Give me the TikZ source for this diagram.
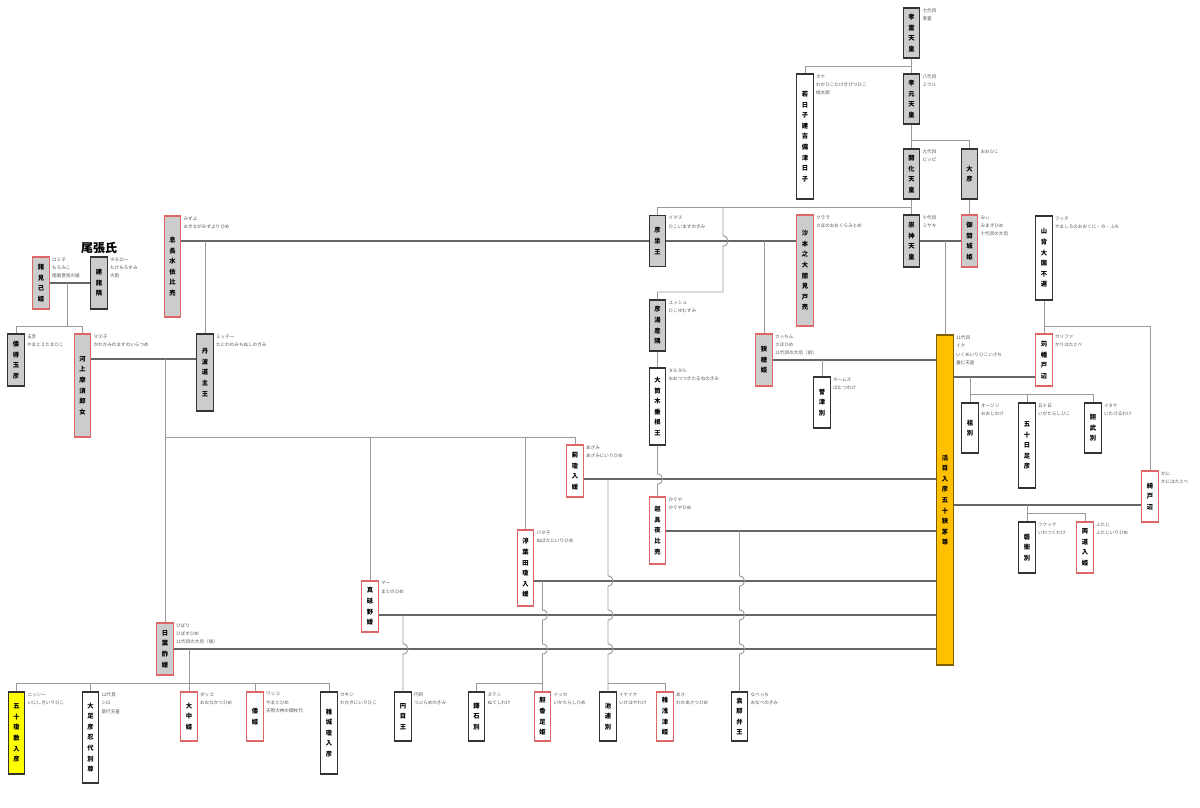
\documentclass[tikz,border=0pt]{standalone}
\usepackage{fontspec}
\setmainfont{Noto Sans CJK JP}
\usetikzlibrary{positioning}
\definecolor{FamGray}{HTML}{CCCCCC}
\definecolor{FamEdge}{HTML}{333333}
\definecolor{FamRed}{HTML}{E06666}
\definecolor{FamGold}{HTML}{FFC000}
\definecolor{FamGoldEdge}{HTML}{7F6000}
\definecolor{FamYellow}{HTML}{FFFF00}
\definecolor{FamLine}{HTML}{9A9A9A}
\definecolor{FamTie}{HTML}{666666}
\definecolor{FamNote}{HTML}{555555}
\tikzset{
  person/.style={draw=FamEdge,line width=1.2pt,minimum width=16.5pt,inner sep=0pt,align=center,
    font=\fontsize{6.3}{10.6}\selectfont\bfseries},
  grayman/.style={person,fill=FamGray},
  graywoman/.style={person,fill=FamGray,draw=FamRed},
  whiteman/.style={person,fill=white},
  whitewoman/.style={person,fill=white,draw=FamRed},
  goldman/.style={person,fill=FamGold,draw=FamGoldEdge},
  yellowman/.style={person,fill=FamYellow},
  note/.style={anchor=north west,inner sep=0pt,align=left,text=FamNote,
    font=\fontsize{4.6}{8.3}\selectfont},
  desc/.style={draw=FamLine,line width=0.9pt},
  tie/.style={draw=FamTie,line width=1.3pt},
  hop/.style 2 args={insert path={-- (#1,#2-5) .. controls (#1+6.7,#2-5) and (#1+6.7,#2+5) .. (#1,#2+5)}}
}
\begin{document}
\begin{tikzpicture}[x=1pt,y=-1pt]
\useasboundingbox[fill=white] (0,0) rectangle (1200,808);
% emperors
\node[grayman,minimum height=50pt] (korei) at (911.5,33) {孝\\霊\\天\\皇};
\node[note] (korei-n) at ([xshift=2pt,yshift=-1pt]korei.north east) {七代目\\孝霊};
\node[whiteman,minimum height=125pt] (wakahiko) at (805,136.5) {若\\日\\子\\建\\吉\\備\\津\\日\\子};
\node[note] (wakahiko-n) at ([xshift=2pt,yshift=-1pt]wakahiko.north east) {タケ\\わかひこたけきびつひこ\\桃太郎};
\node[grayman,minimum height=50pt] (kogen) at (911.5,99) {孝\\元\\天\\皇};
\node[note] (kogen-n) at ([xshift=2pt,yshift=-1pt]kogen.north east) {八代目\\ミクル};
\node[grayman,minimum height=50pt] (kaika) at (911.5,174) {開\\化\\天\\皇};
\node[note] (kaika-n) at ([xshift=2pt,yshift=-1pt]kaika.north east) {九代目\\ビッピ};
\node[grayman,minimum height=50pt] (ohiko) at (969.5,174) {大\\彦};
\node[note] (ohiko-n) at ([xshift=2pt,yshift=-1pt]ohiko.north east) {おおひこ};
\node[grayman,minimum height=52pt] (sujin) at (911.5,241) {崇\\神\\天\\皇};
\node[note] (sujin-n) at ([xshift=2pt,yshift=-1pt]sujin.north east) {十代目\\ミヤキ};
\node[graywoman,minimum height=52pt] (mimaki) at (969.5,241) {御\\間\\城\\姫};
\node[note] (mimaki-n) at ([xshift=2pt,yshift=-1pt]mimaki.north east) {みぃ\\みまきひめ\\十代目の大后};
\node[graywoman,minimum height=111pt] (sahono) at (805,270.5) {沙\\本\\之\\大\\闇\\見\\戸\\売};
\node[note] (sahono-n) at ([xshift=2pt,yshift=-1pt]sahono.north east) {クララ\\さほのおおくらみとめ};
\node[grayman,minimum height=51pt] (hikoimasu) at (657.5,241) {彦\\坐\\王};
\node[note] (hikoimasu-n) at ([xshift=2pt,yshift=-1pt]hikoimasu.north east) {イマス\\ひこいますのきみ};
\node[graywoman,minimum height=101pt] (okinaga) at (172.5,266.5) {息\\長\\水\\依\\比\\売};
\node[note] (okinaga-n) at ([xshift=2pt,yshift=-1pt]okinaga.north east) {みずよ\\おきながみずよりひめ};
\node[grayman,minimum height=77pt] (tanba) at (205,372.5) {丹\\波\\道\\主\\王};
\node[note] (tanba-n) at ([xshift=2pt,yshift=-1pt]tanba.north east) {ミッチー\\たにわのみちぬしのきみ};
\node[grayman,minimum height=51pt] (hikoyumu) at (657.5,325.5) {彦\\湯\\産\\隅};
\node[note] (hikoyumu-n) at ([xshift=2pt,yshift=-1pt]hikoyumu.north east) {ユッシュ\\ひこゆむすみ};
\node[whiteman,minimum height=77pt] (otsutsuki) at (657.5,406.5) {大\\筒\\木\\垂\\根\\王};
\node[note] (otsutsuki-n) at ([xshift=2pt,yshift=-1pt]otsutsuki.north east) {タルタル\\おおつつきたるねのきみ};
\node[graywoman,minimum height=52pt] (sahohime) at (764,360) {狭\\穂\\姫};
\node[note] (sahohime-n) at ([xshift=2pt,yshift=-1pt]sahohime.north east) {さっちん\\さほひめ\\11代目の大后（前）};
\node[whiteman,minimum height=51pt] (homutsu) at (822,402.5) {誉\\津\\別};
\node[note] (homutsu-n) at ([xshift=2pt,yshift=-1pt]homutsu.north east) {ホームズ\\ほむつわけ};
\node[goldman,minimum height=330pt] (ikume) at (945,500) {活\\目\\入\\彦\\五\\十\\狭\\茅\\尊};
\node[note] (ikume-n) at ([xshift=2pt,yshift=-1pt]ikume.north east) {11代目\\イク\\いくめいりひこいさち\\垂仁天皇};
% right side
\node[whiteman,minimum height=84pt] (yamashiro) at (1044,258) {山\\背\\大\\国\\不\\遅};
\node[note] (yamashiro-n) at ([xshift=2pt,yshift=-1pt]yamashiro.north east) {フッチ\\やましろのおおくに・の・ふち};
\node[whitewoman,minimum height=52pt] (karihata) at (1044,360) {苅\\幡\\戸\\辺};
\node[note] (karihata-n) at ([xshift=2pt,yshift=-1pt]karihata.north east) {カリファ\\かりはたとべ};
\node[whitewoman,minimum height=51pt] (kanihata) at (1150,496.5) {綺\\戸\\辺};
\node[note] (kanihata-n) at ([xshift=2pt,yshift=-1pt]kanihata.north east) {かに\\かにはたとべ};
\node[whiteman,minimum height=50pt] (ohoji) at (970,428) {祖\\別};
\node[note] (ohoji-n) at ([xshift=2pt,yshift=-1pt]ohoji.north east) {オージン\\おおじわけ};
\node[whiteman,minimum height=85pt] (ikatahiko) at (1027,445.5) {五\\十\\日\\足\\彦};
\node[note] (ikatahiko-n) at ([xshift=2pt,yshift=-1pt]ikatahiko.north east) {五十日\\いかたらしひこ};
\node[whiteman,minimum height=50pt] (itakeru) at (1093,428) {胆\\武\\別};
\node[note] (itakeru-n) at ([xshift=2pt,yshift=-1pt]itakeru.north east) {イタケ\\いたけるわけ};
\node[whiteman,minimum height=51pt] (iwatsuku) at (1027,547.5) {磐\\衝\\別};
\node[note] (iwatsuku-n) at ([xshift=2pt,yshift=-1pt]iwatsuku.north east) {ツクック\\いわつくわけ};
\node[whitewoman,minimum height=51pt] (futaji) at (1085,547.5) {両\\道\\入\\姫};
\node[note] (futaji-n) at ([xshift=2pt,yshift=-1pt]futaji.north east) {ふたじ\\ふたじいりひめ};
% wives from Tanba
\node[whitewoman,minimum height=52pt] (azami) at (575,471) {薊\\瓊\\入\\媛};
\node[note] (azami-n) at ([xshift=2pt,yshift=-1pt]azami.north east) {あざみ\\あざみにいりひめ};
\node[whitewoman,minimum height=76pt] (nubata) at (525.5,568) {渟\\葉\\田\\瓊\\入\\媛};
\node[note] (nubata-n) at ([xshift=2pt,yshift=-1pt]nubata.north east) {バタ子\\ぬばたにいりひめ};
\node[whitewoman,minimum height=67pt] (kaguya) at (657.5,530.5) {迦\\具\\夜\\比\\売};
\node[note] (kaguya-n) at ([xshift=2pt,yshift=-1pt]kaguya.north east) {かぐや\\かぐやひめ};
\node[whitewoman,minimum height=51pt] (matono) at (370,606.5) {真\\砥\\野\\媛};
\node[note] (matono-n) at ([xshift=2pt,yshift=-1pt]matono.north east) {マー\\まとのひめ};
\node[graywoman,minimum height=52pt] (hibasu) at (165,649) {日\\葉\\酢\\媛};
\node[note] (hibasu-n) at ([xshift=2pt,yshift=-1pt]hibasu.north east) {ひばり\\ひばすひめ\\11代目の大后（後）};
% bottom row
\node[yellowman,minimum height=82pt] (inishiki) at (16.5,733) {五\\十\\瓊\\敷\\入\\彦};
\node[note] (inishiki-n) at ([xshift=2pt,yshift=-1pt]inishiki.north east) {ニッシー\\いにしきいりひこ};
\node[whiteman,minimum height=91pt] (otarashi) at (90.5,737.5) {大\\足\\彦\\忍\\代\\別\\尊};
\node[note] (otarashi-n) at ([xshift=2pt,yshift=-1pt]otarashi.north east) {12代目\\シロ\\景行天皇};
\node[whitewoman,minimum height=49pt] (onaka) at (189,716.5) {大\\中\\姫};
\node[note] (onaka-n) at ([xshift=2pt,yshift=-1pt]onaka.north east) {ダッコ\\おおなかつひめ};
\node[whitewoman,minimum height=49pt] (yamato) at (255,716.5) {倭\\姫};
\node[note] (yamato-n) at ([xshift=2pt,yshift=-1pt]yamato.north east) {ワッコ\\やまとひめ\\天照大神の御杖代};
\node[whiteman,minimum height=82pt] (wakaki) at (329,733) {稚\\城\\瓊\\入\\彦};
\node[note] (wakaki-n) at ([xshift=2pt,yshift=-1pt]wakaki.north east) {カキン\\わかきにいりひこ};
\node[whiteman,minimum height=49pt] (tsubura) at (403,716.5) {円\\目\\王};
\node[note] (tsubura-n) at ([xshift=2pt,yshift=-1pt]tsubura.north east) {円目\\つぶらめのきみ};
\node[whiteman,minimum height=49pt] (nuteshi) at (476.5,716.5) {鐸\\石\\別};
\node[note] (nuteshi-n) at ([xshift=2pt,yshift=-1pt]nuteshi.north east) {ヌテシ\\ぬてしわけ};
\node[whitewoman,minimum height=49pt] (ikatahime) at (542.5,716.5) {胆\\香\\足\\姫};
\node[note] (ikatahime-n) at ([xshift=2pt,yshift=-1pt]ikatahime.north east) {イッカ\\いかたらしひめ};
\node[whiteman,minimum height=49pt] (ikehaya) at (608,716.5) {池\\速\\別};
\node[note] (ikehaya-n) at ([xshift=2pt,yshift=-1pt]ikehaya.north east) {イケイケ\\いけはやわけ};
\node[whitewoman,minimum height=49pt] (wakaasa) at (665,716.5) {稚\\浅\\津\\姫};
\node[note] (wakaasa-n) at ([xshift=2pt,yshift=-1pt]wakaasa.north east) {あさ\\わかあさつひめ};
\node[whiteman,minimum height=49pt] (onabe) at (739.5,716.5) {袁\\那\\弁\\王};
\node[note] (onabe-n) at ([xshift=2pt,yshift=-1pt]onabe.north east) {なべっち\\おなべのきみ};
% Owari clan
\node[font=\fontsize{12}{14}\selectfont\bfseries] (owari) at (99,248) {尾張氏};
\node[graywoman,minimum height=52pt] (moromi) at (41,283) {諸\\見\\己\\姫};
\node[note] (moromi-n) at ([xshift=2pt,yshift=-1pt]moromi.north east) {ロミ子\\もろみこ\\尾張意見の娘};
\node[grayman,minimum height=52pt] (takemoro) at (99,283) {建\\諸\\隅};
\node[note] (takemoro-n) at ([xshift=2pt,yshift=-1pt]takemoro.north east) {タモロー\\たけもろすみ\\大臣};
\node[grayman,minimum height=52pt] (yamatoe) at (16,360) {倭\\得\\玉\\彦};
\node[note] (yamatoe-n) at ([xshift=2pt,yshift=-1pt]yamatoe.north east) {玉彦\\やまとえたまひこ};
\node[graywoman,minimum height=103pt] (kawakami) at (82.5,385.5) {河\\上\\摩\\須\\郎\\女};
\node[note] (kawakami-n) at ([xshift=2pt,yshift=-1pt]kawakami.north east) {マス子\\かわかみのますのいらつめ};
% junctions
\coordinate (kaika-j) at (723,207);
\coordinate (owari-j) at (67,283);
\coordinate (tanba-j) at (165,359);
\coordinate (hibasu-j) at (189,649);
\coordinate (matono-j) at (403,615);
\coordinate (nubata-j) at (542.5,581);
\coordinate (azami-j) at (608,479);
\coordinate (kaguya-j) at (739.5,531);
% marriages
\draw[tie] (sujin.east) -- (mimaki.west);
\draw[tie] (okinaga.east |- hikoimasu.west) -- (hikoimasu.west);
\draw[tie] (hikoimasu.east) -- (sahono.west |- hikoimasu.east);
\draw[tie] (moromi.east) -- (takemoro.west);
\draw[tie] (kawakami.east |- tanba-j) -- (tanba.west |- tanba-j);
\draw[tie] (sahohime.east) -- (ikume.west |- sahohime.east);
\draw[tie] (azami.east |- azami-j) -- (ikume.west |- azami-j);
\draw[tie] (kaguya.east |- kaguya-j) -- (ikume.west |- kaguya-j);
\draw[tie] (nubata.east |- nubata-j) -- (ikume.west |- nubata-j);
\draw[tie] (matono.east |- matono-j) -- (ikume.west |- matono-j);
\draw[tie] (hibasu.east |- hibasu-j) -- (ikume.west |- hibasu-j);
\draw[tie] (ikume.east |- 0,377) -- (karihata.west |- 0,377);
\draw[tie] (ikume.east |- 0,505) -- (kanihata.west |- 0,505);
% descent
\draw[desc] (korei.south) -- (kogen.north);
\draw[desc] (korei.south |- 0,66) -| (wakahiko.north);
\draw[desc] (kogen.south) -- (kaika.north);
\draw[desc] (kogen.south |- 0,140) -| (ohiko.north);
\draw[desc] (kaika.south) -- (sujin.north);
\draw[desc] (kaika.south |- kaika-j) -| (hikoimasu.north);
\draw[desc] (kaika-j) [hop={723}{241}] |- (hikoyumu.north |- 0,292) -- (hikoyumu.north);
\draw[desc] (ohiko.south) -- (mimaki.north);
\draw[desc] (ikume.north |- sujin.east) -- (ikume.north);
\draw[desc] (tanba.north |- hikoimasu.west) -- (tanba.north);
\draw[desc] (sahohime.north |- hikoimasu.east) -- (sahohime.north);
\draw[desc] (hikoyumu.south) -- (otsutsuki.north);
\draw[desc] (otsutsuki.south) [hop={657.5}{479}] -- (kaguya.north);
\draw[desc] (owari-j) |- (yamatoe.north |- 0,326) -- (yamatoe.north);
\draw[desc] (owari-j |- 0,326) -| (kawakami.north);
\draw[desc] (tanba-j) |- (azami.north |- 0,437) -- (azami.north);
\draw[desc] (hibasu.north |- 0,437) -- (hibasu.north);
\draw[desc] (matono.north |- 0,437) -- (matono.north);
\draw[desc] (nubata.north |- 0,437) -- (nubata.north);
\draw[desc] (homutsu.north |- sahohime.east) -- (homutsu.north);
\draw[desc] (hibasu-j) -- (onaka.north);
\draw[desc] (inishiki.north) |- (wakaki.north |- 0,683) -- (wakaki.north);
\draw[desc] (otarashi.north) -- (otarashi.north |- 0,683);
\draw[desc] (yamato.north) -- (yamato.north |- 0,683);
\draw[desc] (matono-j) [hop={403}{649}] -- (tsubura.north);
\draw[desc] (nubata-j) [hop={542.5}{615}] [hop={542.5}{649}] -- (ikatahime.north);
\draw[desc] (nuteshi.north) |- (ikatahime.north |- 0,683);
\draw[desc] (azami-j) [hop={608}{581}] [hop={608}{615}] [hop={608}{649}] -- (ikehaya.north);
\draw[desc] (ikehaya.north |- 0,683) -| (wakaasa.north);
\draw[desc] (kaguya-j) [hop={739.5}{581}] [hop={739.5}{615}] [hop={739.5}{649}] -- (onabe.north);
\draw[desc] (ohoji.north |- 0,377) -- (ohoji.north);
\draw[desc] (ohoji.north |- 0,394) -| (itakeru.north);
\draw[desc] (ikatahiko.north |- 0,394) -- (ikatahiko.north);
\draw[desc] (iwatsuku.north |- 0,505) -- (iwatsuku.north);
\draw[desc] (iwatsuku.north |- 0,513) -| (futaji.north);
\draw[desc] (yamashiro.south) -- (karihata.north);
\draw[desc] (yamashiro.south |- 0,326) -| (kanihata.north);
\end{tikzpicture}
\end{document}
